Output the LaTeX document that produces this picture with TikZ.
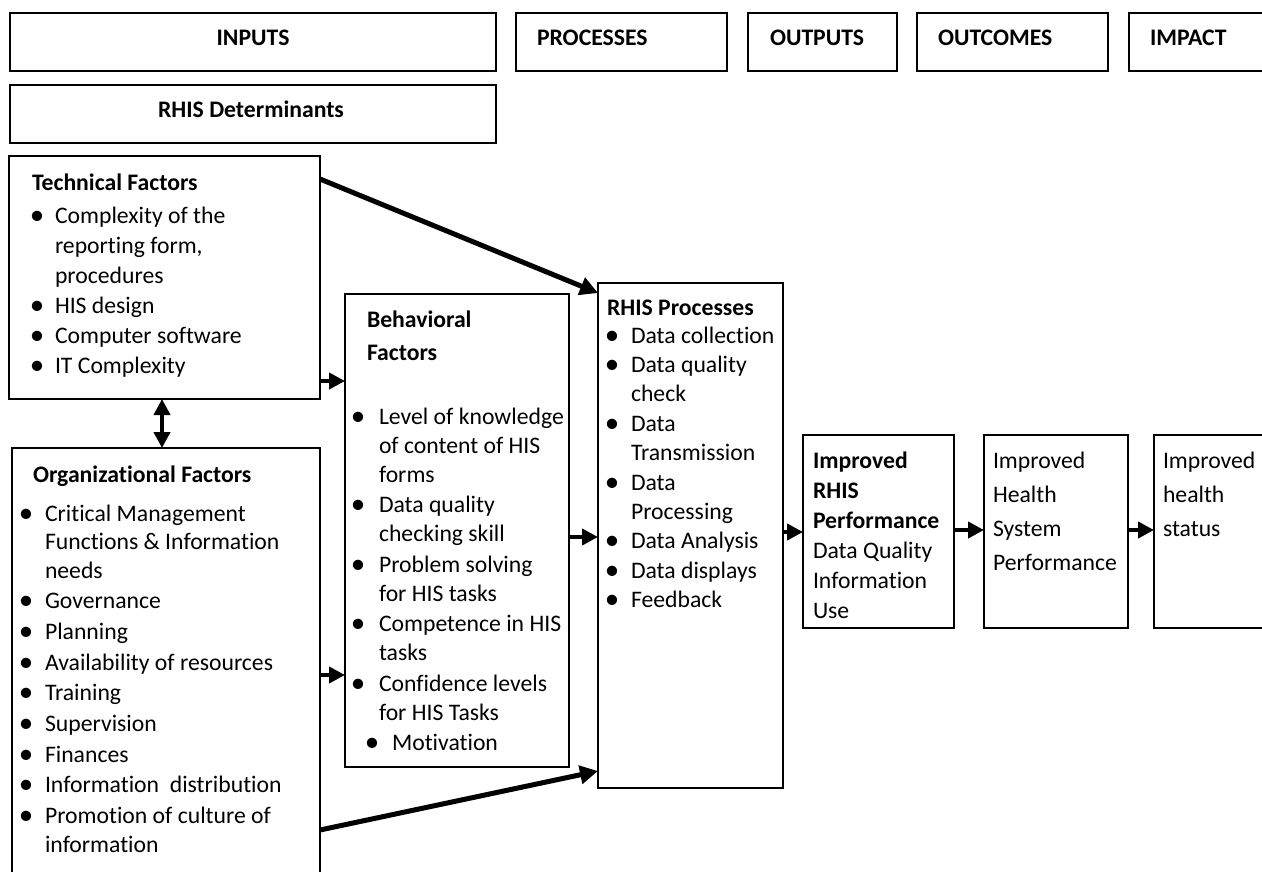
\documentclass[tikz,border=0pt]{standalone}
\usepackage{fontspec}
\setmainfont{Carlito}[Ligatures=NoCommon]
\usetikzlibrary{arrows.meta}
\newcommand{\bu}{\makebox[12pt]{\raisebox{-1pt}{\fontsize{29pt}{0pt}\selectfont\textbullet}}}
\newcommand{\txtsize}[1]{\fontsize{23.7pt}{#1}\selectfont}

\begin{document}
\begin{tikzpicture}[x=1pt,y=-1pt,
  boxx/.style={draw, line width=1.6pt, inner sep=0pt, outer sep=0pt, anchor=north west},
  txt/.style={inner sep=0pt, outer sep=0pt, anchor=base west, font=\txtsize{29.6pt}},
  hd/.style={txt, font=\txtsize{29.6pt}\bfseries},
  flow/.style={line width=4pt, -{Triangle[length=16pt,width=16pt]}},
  link/.style={line width=5pt, -{Triangle[length=18pt,width=18pt]}},
  both/.style={line width=4.5pt, {Triangle[length=16pt,width=16pt]}-{Triangle[length=16pt,width=16pt]}},
]
\useasboundingbox (0,0) rectangle (1262,871);
\clip (0,0) rectangle (1262,871);

% header row
\node[boxx, minimum width=486pt, minimum height=58pt] (inputs) at (10,13) {};
\node[boxx, minimum width=211pt, minimum height=58pt] (processes) at (516,13) {};
\node[boxx, minimum width=149pt, minimum height=58pt] (outputs) at (748,13) {};
\node[boxx, minimum width=191pt, minimum height=58pt] (outcomes) at (917,13) {};
\node[boxx, minimum width=200pt, minimum height=58pt] (impact) at (1129,13) {};
\node[boxx, minimum width=486pt, minimum height=58pt] (determ) at (10,85) {};

\node[hd, anchor=base] (tinputs) at (253,45) {INPUTS};
\node[hd] (tprocesses) at (537,45) {PROCESSES};
\node[hd] (toutputs) at (770,45) {OUTPUTS};
\node[hd] (toutcomes) at (938,45) {OUTCOMES};
\node[hd] (timpact) at (1150,45) {IMPACT};
\node[hd, anchor=base] (tdeterm) at (251,117) {RHIS Determinants};

% factor boxes
\node[boxx, minimum width=311pt, minimum height=243pt] (tech) at (9,156) {};
\node[boxx, minimum width=308pt, minimum height=450pt] (org) at (12,448) {};
\node[boxx, minimum width=224pt, minimum height=473pt] (beh) at (345,294) {};
\node[boxx, minimum width=185pt, minimum height=505pt] (proc) at (598,283) {};
\node[boxx, minimum width=151pt, minimum height=193pt] (perf) at (803,435) {};
\node[boxx, minimum width=144pt, minimum height=193pt] (hsys) at (984,435) {};
\node[boxx, minimum width=150pt, minimum height=193pt] (hstat) at (1154,435) {};

% technical factors
\node[hd] (techtitle) at (32,190) {Technical Factors};
\node[txt, font=\txtsize{30pt}] (techlist) at (31,223) {%
\begin{tabular}[t]{@{}l@{\hspace{12pt}}l@{}}
\bu & Complexity of the\\
    & reporting form,\\
    & procedures\\
\bu & HIS design\\
\bu & Computer software\\
\bu & IT Complexity
\end{tabular}};

% organizational factors
\node[hd] (orgtitle) at (33,482) {Organizational Factors};
\node[txt, font=\txtsize{28.5pt}] (orglist) at (20,521) {%
\begin{tabular}[t]{@{}l@{\hspace{13pt}}l@{}}
\bu & Critical Management\\
    & Functions \& Information\\
    & needs\\[2.2pt]
\bu & Governance\\[2.2pt]
\bu & Planning\\[2.2pt]
\bu & Availability of resources\\[2.2pt]
\bu & Training\\[2.2pt]
\bu & Supervision\\[2.2pt]
\bu & Finances\\[2.2pt]
\bu & Information~ distribution\\[2.2pt]
\bu & Promotion of culture of\\
    & information
\end{tabular}};

% behavioral factors
\node[txt, font=\txtsize{33pt}\bfseries] (behtitle) at (367,327) {%
\begin{tabular}[t]{@{}l@{}}
Behavioral\\
Factors
\end{tabular}};
\node[txt, font=\txtsize{29pt}] (behlist) at (352,424) {%
\begin{tabular}[t]{@{}l@{\hspace{15pt}}l@{}}
\bu & Level of knowledge\\
    & of content of HIS\\
    & forms\\[1.5pt]
\bu & Data quality\\
    & checking skill\\[1.5pt]
\bu & Problem solving\\
    & for HIS tasks\\[1.5pt]
\bu & Competence in HIS\\
    & tasks\\[1.5pt]
\bu & Confidence levels\\
    & for HIS Tasks\\[1.5pt]
\multicolumn{2}{@{\hspace{14pt}}l@{}}{\bu\hspace{14pt}Motivation}
\end{tabular}};

% RHIS processes
\node[hd] (proctitle) at (607,315) {RHIS Processes};
\node[txt, font=\txtsize{29.4pt}] (proclist) at (606,343) {%
\begin{tabular}[t]{@{}l@{\hspace{13pt}}l@{}}
\bu & Data collection\\
\bu & Data quality\\
    & check\\
\bu & Data\\
    & Transmission\\
\bu & Data\\
    & Processing\\
\bu & Data Analysis\\
\bu & Data displays\\
\bu & Feedback
\end{tabular}};

% results chain
\node[txt, font=\txtsize{30pt}] (perftext) at (813,468) {%
\begin{tabular}[t]{@{}l@{}}
\textbf{Improved}\\
\textbf{RHIS}\\
\textbf{Performance}\\
Data Quality\\
Information\\
Use
\end{tabular}};
\node[txt, font=\txtsize{34pt}] (hsystext) at (993,468) {%
\begin{tabular}[t]{@{}l@{}}
Improved\\
Health\\
System\\
Performance
\end{tabular}};
\node[txt, font=\txtsize{34pt}] (hstattext) at (1163,468) {%
\begin{tabular}[t]{@{}l@{}}
Improved\\
health\\
status
\end{tabular}};

% connectors
\draw[link] ([yshift=-23pt]tech.north east) -- ([yshift=-10pt]proc.north west);
\draw[flow] ([yshift=-225pt]tech.north east) -- ([yshift=-87pt]beh.north west);
\coordinate (dbl) at ([xshift=-2.5pt]tech.south);
\draw[both] (dbl) -- (dbl |- org.north);
\draw[flow] ([yshift=-227pt]org.north east) -- ([yshift=-381pt]beh.north west);
\draw[flow] ([yshift=-243pt]beh.north east) -- ([yshift=-254pt]proc.north west);
\draw[link] ([yshift=-382pt]org.north east) -- ([yshift=-488pt]proc.north west);
\draw[flow] ([yshift=-249pt]proc.north east) -- ([yshift=-97pt]perf.north west);
\draw[flow] ([yshift=-95pt]perf.north east) -- ([yshift=-95pt]hsys.north west);
\draw[flow] ([yshift=-95pt]hsys.north east) -- ([yshift=-95pt]hstat.north west);
\end{tikzpicture}
\end{document}
